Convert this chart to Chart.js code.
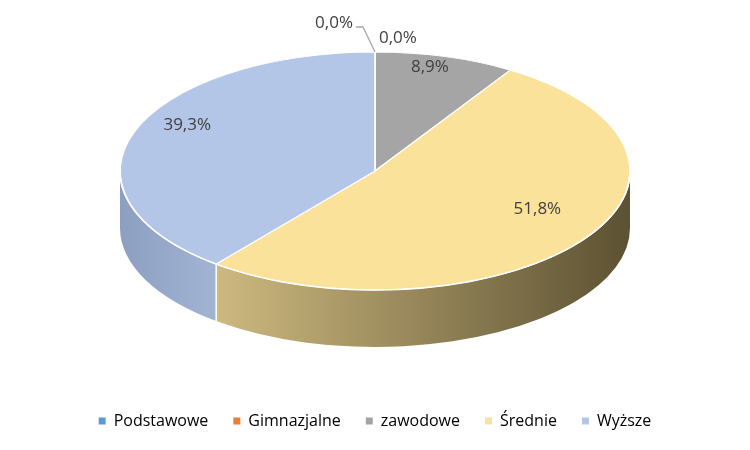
<!DOCTYPE html>
<html>
<head>
<meta charset="utf-8">
<script src="https://cdn.jsdelivr.net/npm/chart.js@4.4.1/dist/chart.umd.min.js"></script>
<style>
  html, body { margin: 0; padding: 0; background: #ffffff; }
  #wrap { width: 750px; height: 450px; }
</style>
</head>
<body>
<div id="wrap"><canvas id="c" width="750" height="450"></canvas></div>
<script>
// ---- data ----
const categories = ['Podstawowe', 'Gimnazjalne', 'zawodowe', 'Średnie', 'Wyższe'];
const values = [0.0, 0.0, 8.9, 51.8, 39.3];
const labelsText = ['0,0%', '0,0%', '8,9%', '51,8%', '39,3%'];

// ---- styles ----
const topColors = ['#5B9BD5', '#ED7D31', '#A5A5A5', '#FBE29B', '#B3C6E7'];
const sideFrom = ['#4A7FB0', '#C2662A', '#8A8A8A', '#CDB97F', '#8C9FC0'];
const sideTo   = ['#3A6690', '#9E5322', '#6E6E6E', '#5C5132', '#A2B4D4'];

// ellipse geometry of the 3D view
const CX = 375, CY = 171, RX = 255, RY = 119, DEPTH = 57;

const pie3d = {
  id: 'pie3d',
  beforeDatasetsDraw(chart) {
    const ctx = chart.ctx;
    const arcs = chart.getDatasetMeta(0).data;
    const a0 = arcs[0];
    const r = a0.outerRadius, x0 = a0.x, y0 = a0.y;
    // side walls (front half: canvas angles 0..PI)
    arcs.forEach((arc, i) => {
      if (values[i] === 0) return;
      const s = arc.startAngle, e = arc.endAngle;
      const a = Math.max(s, 0), b = Math.min(e, Math.PI);
      if (b <= a) return;
      const xa = CX + RX * Math.cos(a), xb = CX + RX * Math.cos(b);
      const xl = Math.min(xa, xb), xr = Math.max(xa, xb);
      const g = ctx.createLinearGradient(xl, 0, xr, 0);
      g.addColorStop(0, sideFrom[i]);
      g.addColorStop(1, sideTo[i]);
      ctx.save();
      ctx.beginPath();
      ctx.ellipse(CX, CY, RX, RY, 0, a, b, false);
      ctx.ellipse(CX, CY + DEPTH, RX, RY, 0, b, a, true);
      ctx.closePath();
      ctx.fillStyle = g;
      ctx.fill();
      ctx.restore();
    });
    // white vertical seams on visible slice borders
    arcs.forEach((arc) => {
      const t = arc.endAngle;
      if (t > 0.02 && t < Math.PI - 0.02) {
        const px = CX + RX * Math.cos(t), py = CY + RY * Math.sin(t);
        ctx.save();
        ctx.strokeStyle = '#ffffff';
        ctx.lineWidth = 1.5;
        ctx.beginPath();
        ctx.moveTo(px, py);
        ctx.lineTo(px, py + DEPTH);
        ctx.stroke();
        ctx.restore();
      }
    });
    // transform the top face into the ellipse
    ctx.save();
    ctx.translate(CX, CY);
    ctx.scale(RX / r, RY / r);
    ctx.translate(-x0, -y0);
  },
  afterDatasetsDraw(chart) {
    const ctx = chart.ctx;
    ctx.restore();
    const arcs = chart.getDatasetMeta(0).data;
    // white rim between top and side
    ctx.save();
    ctx.strokeStyle = '#ffffff';
    ctx.lineWidth = 1.5;
    ctx.beginPath();
    ctx.ellipse(CX, CY, RX, RY, 0, 0, Math.PI, false);
    ctx.stroke();
    ctx.restore();

    // data labels
    ctx.save();
    ctx.font = '17px "Open Sans"';
    ctx.fillStyle = '#404040';
    ctx.textBaseline = 'middle';
    let zeroCount = 0;
    arcs.forEach((arc, i) => {
      if (values[i] === 0) {
        const px = CX + RX * Math.cos(arc.startAngle);
        const py = CY + RY * Math.sin(arc.startAngle);
        if (zeroCount === 0) {
          ctx.textAlign = 'right';
          ctx.fillText(labelsText[i], px - 22, py - 29);
          ctx.save();
          ctx.strokeStyle = '#A6A6A6';
          ctx.lineWidth = 1.3;
          ctx.beginPath();
          ctx.moveTo(px - 19, py - 25);
          ctx.lineTo(px - 12, py - 25);
          ctx.lineTo(px, py);
          ctx.stroke();
          ctx.restore();
        } else {
          ctx.textAlign = 'left';
          ctx.fillText(labelsText[i], px + 4, py - 14);
        }
        zeroCount++;
      } else {
        const mid = (arc.startAngle + arc.endAngle) / 2;
        const lx = CX + 0.78 * RX * Math.cos(mid);
        const ly = CY - 15 + 0.78 * RY * Math.sin(mid);
        ctx.textAlign = 'center';
        ctx.fillText(labelsText[i], lx, ly);
      }
    });
    ctx.restore();
  }
};

new Chart(document.getElementById('c'), {
  type: 'pie',
  data: {
    labels: categories,
    datasets: [{
      data: values,
      backgroundColor: topColors,
      borderColor: '#ffffff',
      borderWidth: 1.3,
      clip: false
    }]
  },
  options: {
    responsive: false,
    animation: false,
    events: [],
    layout: { padding: { bottom: 11 } },
    plugins: {
      tooltip: { enabled: false },
      legend: {
        position: 'bottom',
        labels: {
          font: { family: '"Open Sans"', size: 16 },
          color: '#595959',
          boxWidth: 7,
          boxHeight: 7,
          padding: 25,
          generateLabels(chart) {
            return categories.map((c, i) => ({
              text: c,
              fillStyle: topColors[i],
              strokeStyle: topColors[i],
              lineWidth: 0,
              hidden: false,
              index: i
            }));
          }
        }
      }
    }
  },
  plugins: [pie3d]
});
</script>
</body>
</html>
